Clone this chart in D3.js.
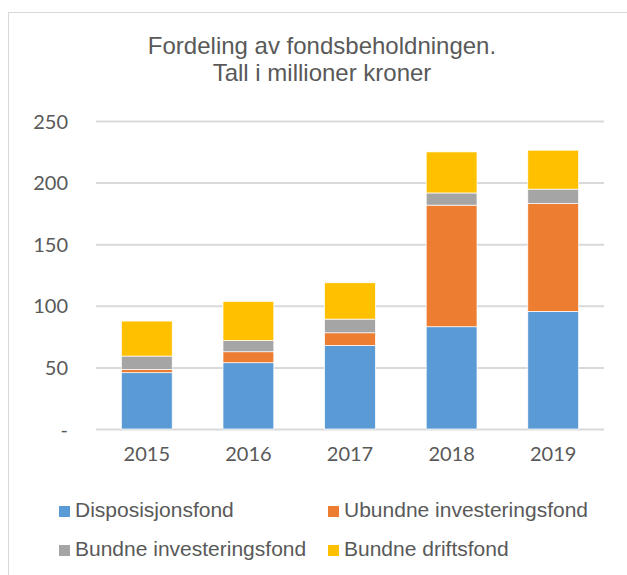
<!DOCTYPE html>
<html><head><meta charset="utf-8">
<script src="https://cdn.jsdelivr.net/npm/d3@7"></script>
<style>body{margin:0;background:#fff}svg{display:block}</style>
</head><body>
<svg id="c" width="627" height="575"></svg>
<script>
const years = ["2015","2016","2017","2018","2019"];
const seriesNames = ["Disposisjonsfond","Ubundne investeringsfond","Bundne investeringsfond","Bundne driftsfond"];
const disposisjonsfond = [45.7, 53.8, 67.9, 83.0, 95.5];
const ubundneInvestering = [2.7, 8.9, 10.2, 98.7, 87.5];
const bundneInvestering = [10.8, 9.2, 11.1, 9.9, 11.7];
const bundneDrift = [28.4, 31.7, 29.5, 33.3, 31.6];
const yTicks = [0, 50, 100, 150, 200, 250];
const colors = ["#5B9BD5","#ED7D31","#A5A5A5","#FFC000"];
const titleLines = ["Fordeling av fondsbeholdningen.","Tall i millioner kroner"];

const rows = years.map((y,i)=>({year:y,
  [seriesNames[0]]:disposisjonsfond[i],[seriesNames[1]]:ubundneInvestering[i],
  [seriesNames[2]]:bundneInvestering[i],[seriesNames[3]]:bundneDrift[i]}));
const stacked = d3.stack().keys(seriesNames)(rows);

const svg = d3.select("#c");
const textColor = "#595959";
svg.append("rect").attr("x",8.5).attr("y",12.5).attr("width",640).attr("height",600)
  .attr("fill","none").attr("stroke","#D9D9D9").attr("stroke-width",1);

const x = d3.scaleBand().domain(years).range([96,604]).paddingInner(0.5).paddingOuter(0.25);
const y = d3.scaleLinear().domain([0,250]).range([429,121]);

svg.append("g").selectAll("text").data(titleLines).join("text")
  .attr("x",322).attr("y",(d,i)=>54+i*27).attr("text-anchor","middle")
  .attr("font-family","Liberation Sans, Arial, sans-serif").attr("font-size",24)
  .attr("fill",textColor).text(d=>d);

const yAxis = d3.axisLeft(y).tickValues(yTicks).tickSize(-(604-96)).tickPadding(28)
  .tickFormat(d=>d===0?"-":d);
const gy = svg.append("g").attr("transform","translate(96,0)").call(yAxis);
gy.select(".domain").remove();
gy.selectAll(".tick line").attr("stroke","#D9D9D9").attr("stroke-width",2);
gy.selectAll(".tick text").attr("fill",textColor).attr("font-size",20)
  .attr("font-family","Lato, Open Sans, sans-serif").attr("dy","0.35em");

svg.append("g").selectAll("g").data(stacked).join("g").attr("fill",(d,i)=>colors[i])
  .selectAll("rect").data(d=>d).join("rect")
  .attr("x",d=>x(d.data.year)).attr("width",x.bandwidth())
  .attr("y",d=>y(d[1])).attr("height",d=>y(d[0])-y(d[1]))
  .attr("stroke","#fff").attr("stroke-width",0.7);

const xAxis = d3.axisBottom(x).tickSize(0).tickPadding(18);
const gx = svg.append("g").attr("transform","translate(0,429)").call(xAxis);
gx.select(".domain").remove();
gx.selectAll(".tick text").attr("fill",textColor).attr("font-size",20)
  .attr("font-family","Lato, Open Sans, sans-serif");

const legPos = [[59,517],[328,517],[59,556],[328,556]];
const lg = svg.append("g").selectAll("g").data(seriesNames).join("g")
  .attr("transform",(d,i)=>`translate(${legPos[i][0]},${legPos[i][1]})`);
lg.append("rect").attr("x",0).attr("y",-11).attr("width",11).attr("height",11)
  .attr("fill",(d,i)=>colors[i]);
lg.append("text").attr("x",16).attr("y",0).attr("fill",textColor)
  .attr("font-family","Liberation Sans, Arial, sans-serif").attr("font-size",21).text(d=>d);
</script>
</body></html>
